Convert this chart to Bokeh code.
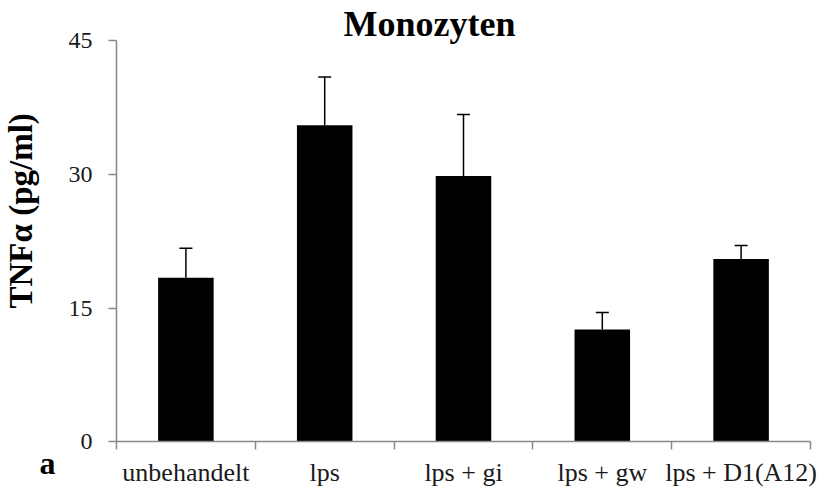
import math
from bokeh.plotting import figure
from bokeh.models import Range1d, FixedTicker, Whisker, TeeHead, ColumnDataSource, Label
from bokeh.embed import file_html
from bokeh.resources import INLINE

categories = ["unbehandelt", "lps", "lps + gi", "lps + gw", "lps + D1(A12)"]
means = [18.4, 35.5, 29.8, 12.6, 20.5]
errors = [3.3, 5.4, 6.9, 1.9, 1.5]
y_ticks = [0, 15, 30, 45]
title_text = "Monozyten"
y_label = "TNFα (pg/ml)"
panel_letter = "a"

SERIF = "Liberation Serif"
AXIS_GRAY = "#888888"
TEXT = "#1a1a1a"

W, H = 818, 488
# pixel placement of the data area inside the canvas
AX_LEFT, AX_RIGHT = 116, 810
AX_BOTTOM, AX_TOP = 441.3, 40
Y_MAX = y_ticks[-1]
n = len(categories)

px_x = (AX_RIGHT - AX_LEFT) / n
px_y = (AX_BOTTOM - AX_TOP) / Y_MAX
x_range = Range1d(-AX_LEFT / px_x, n + (W - AX_RIGHT) / px_x)
y_range = Range1d(-(H - AX_BOTTOM) / px_y, Y_MAX + AX_TOP / px_y)

def dx(px):
    return (px - AX_LEFT) / px_x

def dy(py):
    return (AX_BOTTOM - py) / px_y

centers = [i + 0.5 for i in range(n)]
bounds = list(range(n + 1))
upper = [m + e for m, e in zip(means, errors)]

src = ColumnDataSource(dict(x=centers, top=means, upper=upper))

p = figure(width=W, height=H, x_range=x_range, y_range=y_range,
           output_backend="svg", toolbar_location=None, min_border=0)
p.outline_line_color = None
p.grid.visible = False
p.background_fill_color = "white"
p.border_fill_color = "white"

p.vbar(x="x", top="top", width=0.4, source=src,
       fill_color="black", line_color=None)

w = Whisker(base="x", lower="top", upper="upper", source=src,
            line_color="black", line_width=1.5,
            lower_head=None,
            upper_head=TeeHead(size=13, line_color="black", line_width=1.5))
p.add_layout(w)

xa = p.xaxis[0]
xa.fixed_location = 0
xa.bounds = (0, n)
xa.ticker = FixedTicker(ticks=centers, minor_ticks=bounds)
xa.major_label_overrides = {c: lab for c, lab in zip(centers, categories)}
xa.major_tick_out = 0
xa.major_tick_in = 0
xa.minor_tick_out = 8
xa.minor_tick_in = 0
xa.minor_tick_line_color = AXIS_GRAY
xa.minor_tick_line_width = 1.5
xa.axis_line_color = AXIS_GRAY
xa.axis_line_width = 1.5
xa.major_label_standoff = 8
xa.major_label_text_font = SERIF
xa.major_label_text_font_size = "26px"
xa.major_label_text_color = TEXT

ya = p.yaxis[0]
ya.fixed_location = 0
ya.bounds = (0, Y_MAX)
ya.ticker = FixedTicker(ticks=y_ticks, minor_ticks=[])
ya.major_tick_out = 8
ya.major_tick_in = 0
ya.major_tick_line_color = AXIS_GRAY
ya.major_tick_line_width = 1.5
ya.axis_line_color = AXIS_GRAY
ya.axis_line_width = 1.5
ya.major_label_standoff = 16
ya.major_label_text_font = SERIF
ya.major_label_text_font_size = "24px"
ya.major_label_text_color = TEXT

p.add_layout(Label(x=dx(343), y=dy(23), text=title_text, text_font=SERIF,
                   text_font_size="36px", text_font_style="bold",
                   text_color="black", text_baseline="alphabetic",
                   text_align="left"))
p.add_layout(Label(x=dx(20), y=dy(308), text=y_label, angle=math.pi / 2,
                   text_font=SERIF, text_font_size="33px",
                   text_font_style="bold", text_color="black",
                   text_baseline="alphabetic", text_align="left"))
p.add_layout(Label(x=dx(39), y=dy(462), text=panel_letter, text_font=SERIF,
                   text_font_size="32px", text_font_style="bold",
                   text_color="black", text_baseline="alphabetic",
                   text_align="left"))

open("out.html", "w").write(file_html(p, INLINE))
